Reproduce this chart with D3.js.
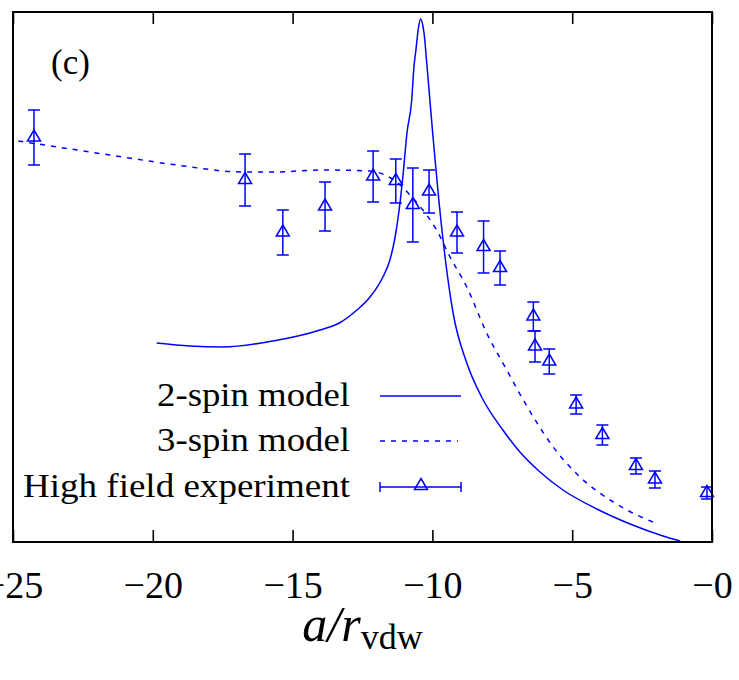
<!DOCTYPE html>
<html>
<head>
<meta charset="utf-8">
<script src="https://cdn.jsdelivr.net/npm/d3@7"></script>
<style>
  html, body { margin: 0; padding: 0; background: #fff; }
  svg { display: block; }
</style>
</head>
<body>
<svg id="chart" width="739" height="680"></svg>
<script>
// ---------- data ----------
const xTicks = [-25, -20, -15, -10, -5, 0];
const xTickLabels = ["\u221225", "\u221220", "\u221215", "\u221210", "\u22125", "\u22120"];

// 2-spin model (solid)
const twoSpinX = [-19.86, -18.67, -17.49, -15.70, -14.02, -13.30, -12.70, -12.23, -11.77, -11.52, -11.34, -11.19, -11.05, -10.91, -10.74, -10.66, -10.59, -10.50, -10.42, -10.34, -10.30, -10.19, -10.09, -9.99, -9.88, -9.77, -9.59, -9.26, -8.77, -8.24, -7.48, -6.87, -6.15, -5.33, -4.12, -2.93, -1.75, -1.14];
const twoSpinY = [1.99, 1.96, 1.95, 2.01, 2.12, 2.195, 2.32, 2.45, 2.65, 2.82, 3.04, 3.32, 3.67, 4.09, 4.42, 4.75, 4.92, 5.14, 5.23, 5.16, 5.09, 4.75, 4.42, 4.09, 3.75, 3.42, 2.95, 2.29, 1.79, 1.45, 1.12, 0.90, 0.70, 0.52, 0.33, 0.18, 0.06, 0.01];

// 3-spin model (dashed)
const threeSpinX = [-24.81, -21.53, -19.15, -16.77, -15.70, -13.91, -12.23, -11.70, -11.28, -10.80, -10.34, -9.85, -9.37, -8.77, -8.06, -7.34, -6.81, -6.41, -5.68, -4.72, -3.53, -2.69, -1.94];
const threeSpinY = [4.01, 3.87, 3.77, 3.70, 3.70, 3.72, 3.71, 3.67, 3.60, 3.47, 3.32, 3.12, 2.85, 2.55, 2.09, 1.72, 1.45, 1.26, 0.95, 0.65, 0.40, 0.27, 0.18];

// High field experiment (triangles with error bars)
const expX = [-24.25, -16.70, -15.35, -13.84, -12.12, -11.31, -10.70, -10.12, -9.12, -8.17, -7.58, -6.39, -6.33, -5.82, -4.86, -3.92, -2.72, -2.04, -0.18];
const expY = [4.045, 3.62, 3.095, 3.355, 3.655, 3.61, 3.37, 3.505, 3.095, 2.95, 2.74, 2.255, 1.955, 1.805, 1.375, 1.07, 0.76, 0.625, 0.49];
const expErr = [0.275, 0.26, 0.225, 0.245, 0.255, 0.22, 0.37, 0.215, 0.205, 0.26, 0.17, 0.145, 0.155, 0.125, 0.095, 0.10, 0.08, 0.085, 0.06];

const legendLabels = ["2-spin model", "3-spin model", "High field experiment"];
const panelLabel = "(c)";

// ---------- layout ----------
const svg = d3.select("#chart");
const mLeft = 13, mRight = 712, mTop = 12, mBottom = 542;
const blue = "#0000ff";
const serif = "'Liberation Serif', 'Times New Roman', serif";

const x = d3.scaleLinear().domain([-25, 0]).range([mLeft, mRight]);
const y = d3.scaleLinear().domain([0, 5.3]).range([mBottom, mTop]);

// clip
svg.append("defs").append("clipPath").attr("id", "clip")
  .append("rect").attr("x", mLeft).attr("y", mTop).attr("width", mRight - mLeft).attr("height", mBottom - mTop);

// axes ticks
const gx = svg.append("g").attr("transform", `translate(0,${mBottom})`)
  .call(d3.axisBottom(x).tickValues(xTicks).tickSize(-12).tickSizeOuter(0)
    .tickFormat((d, i) => xTickLabels[i]));
gx.select(".domain").remove();
gx.selectAll(".tick line").attr("stroke", "#000").attr("stroke-width", 1.6);
gx.selectAll(".tick text").attr("y", 56).attr("dy", 0)
  .attr("font-family", serif).attr("font-size", 38).attr("fill", "#000");

const gt = svg.append("g").attr("transform", `translate(0,${mTop})`)
  .call(d3.axisTop(x).tickValues(xTicks).tickSize(-12).tickSizeOuter(0).tickFormat(""));
gt.select(".domain").remove();
gt.selectAll(".tick line").attr("stroke", "#000").attr("stroke-width", 1.6);

// curves
const plot = svg.append("g").attr("clip-path", "url(#clip)");
const line = d3.line().x(d => x(d[0])).y(d => y(d[1])).curve(d3.curveMonotoneX);

plot.append("path").datum(d3.zip(twoSpinX, twoSpinY))
  .attr("d", line).attr("fill", "none").attr("stroke", blue).attr("stroke-width", 1.5);
plot.append("path").datum(d3.zip(threeSpinX, threeSpinY))
  .attr("d", line).attr("fill", "none").attr("stroke", blue).attr("stroke-width", 1.5)
  .attr("stroke-dasharray", "5,6");

// error bars + triangles
function triangle(g, cx, cy) {
  g.append("path")
    .attr("d", `M${cx},${cy - 7.5} L${cx + 6.5},${cy + 3.5} L${cx - 6.5},${cy + 3.5} Z`)
    .attr("fill", "none").attr("stroke", blue).attr("stroke-width", 1.5);
}
const eg = svg.append("g");
expX.forEach((xv, i) => {
  const cx = x(xv), y1 = y(expY[i] + expErr[i]), y0 = y(expY[i] - expErr[i]);
  const g = eg.append("g").attr("stroke", blue).attr("stroke-width", 1.5);
  g.append("line").attr("x1", cx).attr("x2", cx).attr("y1", y1).attr("y2", y0);
  g.append("line").attr("x1", cx - 6).attr("x2", cx + 6).attr("y1", y1).attr("y2", y1);
  g.append("line").attr("x1", cx - 6).attr("x2", cx + 6).attr("y1", y0).attr("y2", y0);
  triangle(g, cx, y(expY[i]));
});

// frame
svg.append("rect").attr("x", mLeft).attr("y", mTop).attr("width", mRight - mLeft).attr("height", mBottom - mTop)
  .attr("fill", "none").attr("stroke", "#000").attr("stroke-width", 2);

// panel label
svg.append("text").attr("x", 51).attr("y", 74).text(panelLabel)
  .attr("font-family", serif).attr("font-size", 35).attr("fill", "#000");

// legend
const legY = [396, 441, 487];
const legW = [193, 193, 327];
const lg = svg.append("g");
legendLabels.forEach((t, i) => {
  lg.append("text").attr("x", 350).attr("y", legY[i] + 10).attr("text-anchor", "end")
    .attr("font-family", serif).attr("font-size", 33).attr("fill", "#000")
    .attr("textLength", legW[i]).attr("lengthAdjust", "spacingAndGlyphs").text(t);
});
lg.append("line").attr("x1", 380).attr("x2", 461).attr("y1", legY[0]).attr("y2", legY[0])
  .attr("stroke", blue).attr("stroke-width", 1.5);
lg.append("line").attr("x1", 380).attr("x2", 458).attr("y1", legY[1]).attr("y2", legY[1])
  .attr("stroke", blue).attr("stroke-width", 1.5).attr("stroke-dasharray", "5,6");
const lg3 = lg.append("g").attr("stroke", blue).attr("stroke-width", 1.5);
lg3.append("line").attr("x1", 380).attr("x2", 461).attr("y1", legY[2]).attr("y2", legY[2]);
lg3.append("line").attr("x1", 380).attr("x2", 380).attr("y1", legY[2] - 5).attr("y2", legY[2] + 5);
lg3.append("line").attr("x1", 461).attr("x2", 461).attr("y1", legY[2] - 5).attr("y2", legY[2] + 5);
triangle(lg3, 421, legY[2] - 1);

// axis title
const title = svg.append("text").attr("x", (mLeft + mRight) / 2).attr("y", 641).attr("text-anchor", "middle")
  .attr("font-family", serif).attr("fill", "#000");
title.append("tspan").attr("font-style", "italic").attr("font-size", 50).text("a/r");
title.append("tspan").attr("font-size", 36).attr("dy", 8).text("vdw");
</script>
</body>
</html>
